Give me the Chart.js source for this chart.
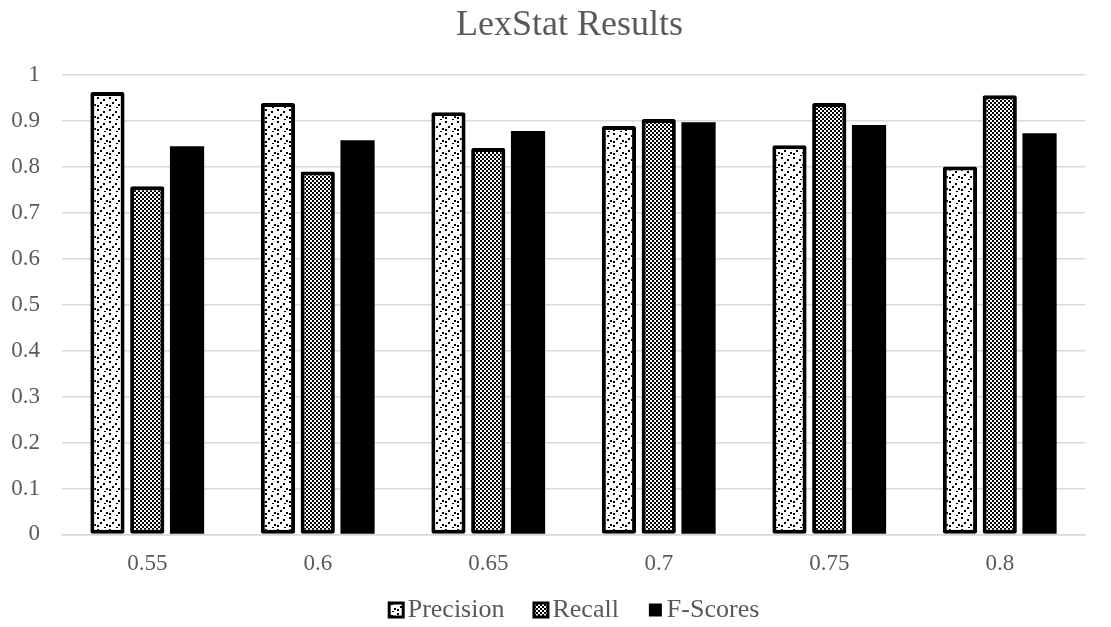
<!DOCTYPE html>
<html>
<head>
<meta charset="utf-8">
<script src="https://cdn.jsdelivr.net/npm/chart.js@4"></script>
<style>
html,body{margin:0;padding:0;background:#fff;}
#wrap{width:1111px;height:627px;}
</style>
</head>
<body>
<div id="wrap"><canvas id="c" width="1111" height="627"></canvas></div>
<script>
const categories = ['0.55','0.6','0.65','0.7','0.75','0.8'];
const precision = [0.963, 0.939, 0.919, 0.889, 0.847, 0.801];
const recall    = [0.758, 0.790, 0.841, 0.904, 0.939, 0.956];
const fscores   = [0.845, 0.858, 0.878, 0.897, 0.891, 0.873];
const seriesNames = ['Precision','Recall','F-Scores'];
const yTicks = [0, 0.1, 0.2, 0.3, 0.4, 0.5, 0.6, 0.7, 0.8, 0.9, 1];
const titleText = 'LexStat Results';

function dotPattern(){
  const c = document.createElement('canvas');
  c.width = 12; c.height = 12;
  const x = c.getContext('2d');
  x.fillStyle = '#fff'; x.fillRect(0,0,12,12);
  x.fillStyle = '#000';
  [[1,1],[7,3],[4,6],[10,8],[1,9],[8,11]].forEach(p=>x.fillRect(p[0],p[1],2,2));
  return x.createPattern(c,'repeat');
}
function checkPattern(){
  const c = document.createElement('canvas');
  c.width = 4; c.height = 4;
  const x = c.getContext('2d');
  x.fillStyle = '#fff'; x.fillRect(0,0,4,4);
  x.fillStyle = '#000';
  x.fillRect(0,0,2,2); x.fillRect(2,2,2,2);
  return x.createPattern(c,'repeat');
}

const font = "'Liberation Serif','Times New Roman',serif";
const grey = '#595959';

const customText = {
  id: 'customText',
  afterDraw(chart){
    const ctx = chart.ctx;
    const ds = chart.data.datasets;
    const ca = chart.chartArea;
    const cx = (ca.left + ca.right)/2;
    ctx.save();
    // title
    ctx.font = '36px ' + font;
    ctx.fillStyle = grey;
    ctx.textAlign = 'center';
    ctx.textBaseline = 'alphabetic';
    ctx.fillText(titleText, cx - 4, 35);
    // legend
    ctx.textAlign = 'left';
    ctx.font = '26px ' + font;
    ctx.textBaseline = 'middle';
    const box = 17, gap = 3, spacing = 28;
    const widths = ds.map(d => box + gap + ctx.measureText(d.label).width);
    const total = widths.reduce((a,b)=>a+b,0) + spacing*(ds.length-1);
    let x = cx - total/2;
    const y = 610;
    ds.forEach((d,i) => {
      if (d.borderWidth > 0) {
        ctx.fillStyle = '#000';
        ctx.fillRect(x, y-box/2, box, box);
        ctx.fillStyle = d.backgroundColor;
        ctx.fillRect(x+3, y-box/2+3, box-6, box-6);
      } else {
        ctx.fillStyle = '#000';
        ctx.fillRect(x+2, y-box/2+2, box-4, box-4);
      }
      ctx.fillStyle = grey;
      ctx.fillText(d.label, x + box + gap, y);
      x += widths[i] + spacing;
    });
    ctx.restore();
  }
};

new Chart(document.getElementById('c'), {
  type: 'bar',
  data: {
    labels: categories,
    datasets: [
      {label: seriesNames[0], data: precision, backgroundColor: dotPattern(), borderColor: '#000', borderWidth: 4, borderSkipped: false, borderRadius: 2},
      {label: seriesNames[1], data: recall, backgroundColor: checkPattern(), borderColor: '#000', borderWidth: 4, borderSkipped: false, borderRadius: 2},
      {label: seriesNames[2], data: fscores, backgroundColor: '#000', borderColor: '#000', borderWidth: 0, borderSkipped: false}
    ]
  },
  plugins: [customText],
  options: {
    responsive: false,
    animation: false,
    layout: {padding: {left: 10, right: 26, top: 75, bottom: 33}},
    datasets: {bar: {categoryPercentage: 0.7, barPercentage: 0.86}},
    plugins: {
      title: {display: false},
      legend: {display: false},
      tooltip: {enabled: false}
    },
    scales: {
      x: {
        grid: {display: false, drawTicks: false},
        border: {display: true, color: '#d9d9d9', width: 1.5},
        ticks: {color: grey, font: {family: font, size: 23}, padding: 16}
      },
      y: {
        min: 0, max: 1,
        afterBuildTicks: axis => { axis.ticks = yTicks.map(v => ({value: v})); },
        afterFit: axis => { axis.width = 52; },
        ticks: {color: grey, font: {family: font, size: 23}, padding: 22,
          callback: v => String(v)},
        grid: {color: '#d9d9d9', lineWidth: 1.5, drawTicks: false},
        border: {display: false}
      }
    }
  }
});
</script>
</body>
</html>
